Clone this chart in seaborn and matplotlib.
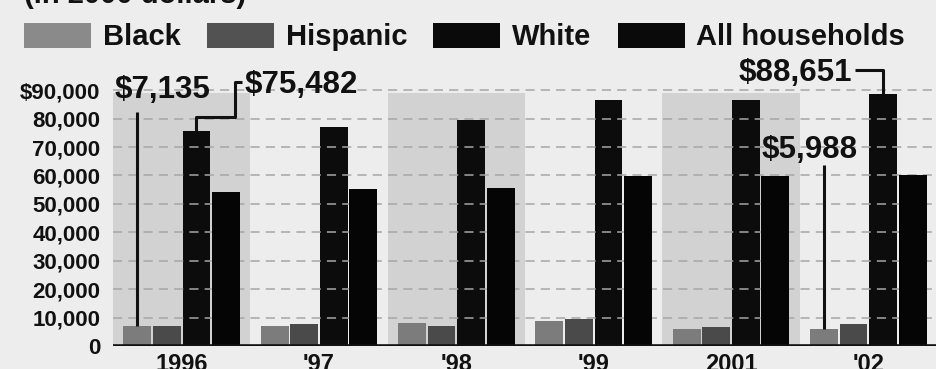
import numpy as np
import pandas as pd
import matplotlib
matplotlib.use("Agg")
import matplotlib.pyplot as plt
from matplotlib.patches import Patch
import seaborn as sns

# Median household net worth by race (in 2000 dollars)
years = ["1996", "'97", "'98", "'99", "2001", "'02"]
groups = ["Black", "Hispanic", "White", "All households"]
black = [7135, 6900, 8100, 8800, 6000, 5988]
hispanic = [7100, 7600, 7100, 9500, 6700, 7800]
white = [75482, 77000, 79600, 86600, 86600, 88651]
all_households = [54200, 55300, 55600, 59900, 59900, 60200]

ytick_values = [0, 10000, 20000, 30000, 40000, 50000, 60000, 70000, 80000, 90000]
ytick_labels = ["0", "10,000", "20,000", "30,000", "40,000", "50,000",
                "60,000", "70,000", "80,000", "$90,000"]

bar_colors = ["#7c7c7c", "#4a4a4a", "#0c0c0c", "#050505"]
legend_colors = ["#8a8a8a", "#525252", "#0a0a0a", "#0a0a0a"]
page = "#ededed"
band = "#d2d2d2"
ink = "#111111"

df = pd.DataFrame({
    "year": years * 4,
    "group": np.repeat(groups, len(years)),
    "value": black + hispanic + white + all_households,
})

sns.set_style("white")
plt.rcParams["font.family"] = ["Liberation Sans", "DejaVu Sans"]
plt.rcParams["font.weight"] = "bold"

fig = plt.figure(figsize=(9.37, 3.69), dpi=100, facecolor=page)
ax = fig.add_axes([113 / 937, 23 / 369, 824 / 937, 270 / 369])
ax.set_facecolor("none")

ax.set_xlim(-0.489, 5.439)
ax.set_ylim(0, 95000)

# alternating shaded bands behind year groups
for i in range(0, len(years), 2):
    ax.axvspan(i - 0.5, i + 0.5, ymin=0, ymax=89000 / 95000,
               color=band, lw=0, zorder=0)

sns.barplot(data=df, x="year", y="value", hue="group", order=years,
            hue_order=groups, palette=bar_colors, width=0.86, gap=0.06,
            saturation=1, legend=False, ax=ax, edgecolor="none")

# gridlines show over the White bars but not over All households
for k, cont in enumerate(ax.containers):
    for p in cont.patches:
        p.set_zorder(3 if groups[k] == "All households" else 1)

for v in ytick_values[1:]:
    ax.axhline(v, color="#a6a6a6", lw=1.1, ls=(0, (6, 4)), zorder=2)
ax.axhline(0, color=ink, lw=2.6, zorder=4)

for s in ax.spines.values():
    s.set_visible(False)
ax.set_xlabel("")
ax.set_ylabel("")
ax.set_yticks(ytick_values)
ax.set_yticklabels(ytick_labels)
ax.tick_params(axis="y", length=0, pad=9, labelsize=16, labelcolor=ink)
ax.tick_params(axis="x", length=0, pad=5, labelsize=17, labelcolor=ink)

# callouts
lab = dict(fontsize=22.5, fontweight="bold", color=ink, clip_on=False, zorder=6)
lk = dict(color=ink, lw=2.2, clip_on=False, zorder=6, solid_capstyle="butt")

ax.text(-0.489, 90000, "$7,135", ha="left", va="center", **lab)
ax.plot([-0.3225, -0.3225], [black[0], 82400], **lk)

ax.text(0.46, 91900, "$75,482", ha="left", va="center", **lab)
ax.plot([0.1075, 0.1075, 0.388, 0.388, 0.439],
        [white[0], 80600, 80600, 92900, 92900], **lk)

ax.text(4.885, 96000, "$88,651", ha="right", va="center", **lab)
ax.plot([4.9, 5.1075, 5.1075], [97200, 97200, white[5]], **lk)

ax.text(4.575, 69000, "$5,988", ha="center", va="center", **lab)
ax.plot([4.6775, 4.6775], [63700, black[5]], **lk)

# legend row and clipped subtitle
handles = [Patch(facecolor=c, edgecolor="none") for c in legend_colors]
fig.legend(handles, groups, loc="center left",
           bbox_to_anchor=(24 / 937, 1 - 37 / 369), ncol=4, frameon=False,
           prop={"size": 21, "weight": "bold"}, handlelength=2.3,
           handleheight=0.95, handletextpad=0.4, columnspacing=0.9,
           borderpad=0, borderaxespad=0, labelcolor=ink)
fig.text(24 / 937, 1 - 9 / 369, "(in 2000 dollars)", ha="left", va="bottom",
         fontsize=21, fontweight="bold", color=ink)

fig.savefig("out.png", dpi=100, facecolor=page)
